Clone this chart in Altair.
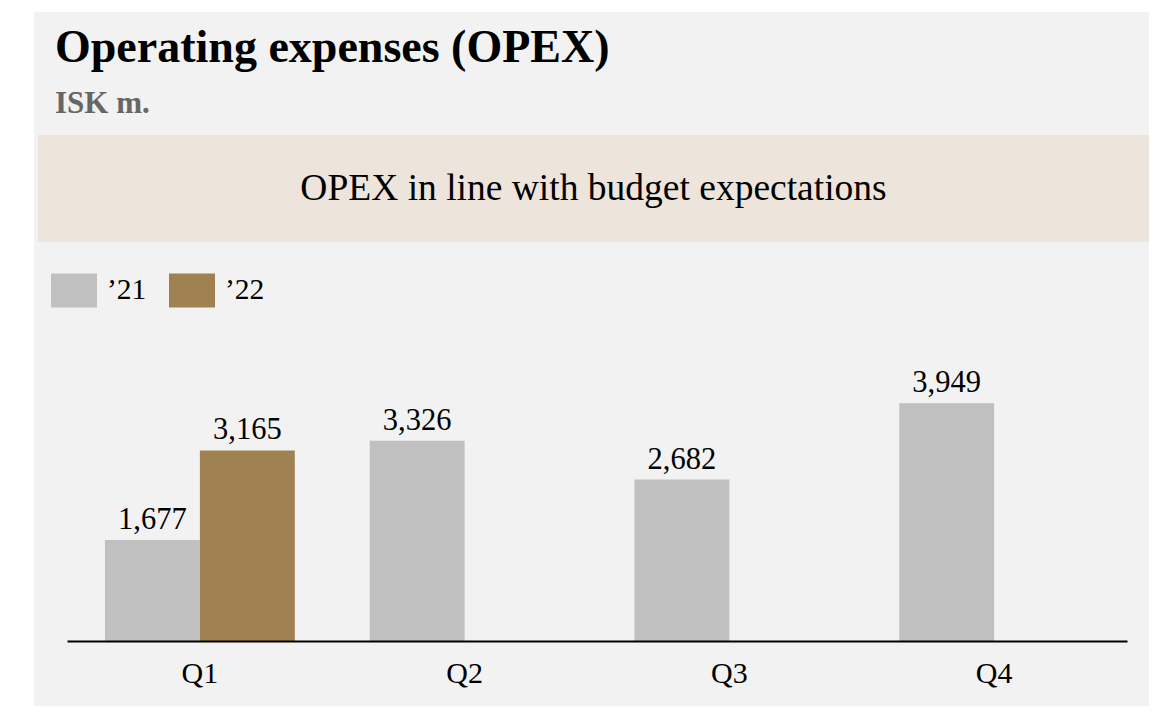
import altair as alt
import pandas as pd

# ---- data ----
quarters = ["Q1", "Q2", "Q3", "Q4"]
years = ["\u201921", "\u201922"]
values_21 = [1677, 3326, 2682, 3949]
values_22 = [3165, None, None, None]

title_text = "Operating expenses (OPEX)"
subtitle_text = "ISK m."
banner_text = "OPEX in line with budget expectations"

rows = []
for q, v in zip(quarters, values_21):
    if v is not None:
        rows.append({"quarter": q, "year": years[0], "value": v})
for q, v in zip(quarters, values_22):
    if v is not None:
        rows.append({"quarter": q, "year": years[1], "value": v})
df = pd.DataFrame(rows)

FONT = "Liberation Serif"
GRAY = "#c0c0c0"
BROWN = "#a08252"
PANEL = "#f2f2f2"
BEIGE = "#ede5dc"

one = pd.DataFrame({"k": [0]})

panel = alt.Chart(one).mark_rect(color=PANEL).encode(
    x=alt.value(-33), x2=alt.value(1082), y=alt.value(-328), y2=alt.value(400)
)
banner = alt.Chart(one).mark_rect(color=BEIGE).encode(
    x=alt.value(-29), x2=alt.value(1082), y=alt.value(-205), y2=alt.value(-98)
)
banner_txt = alt.Chart(pd.DataFrame({"t": [banner_text]})).mark_text(
    font=FONT, fontSize=37.5, color="black", align="center", baseline="middle"
).encode(x=alt.value(526.5), y=alt.value(-151), text="t:N")

title = alt.Chart(pd.DataFrame({"t": [title_text]})).mark_text(
    font=FONT, fontSize=46, fontWeight="bold", color="black",
    align="left", baseline="alphabetic"
).encode(x=alt.value(-12), y=alt.value(-278), text="t:N")

subtitle = alt.Chart(pd.DataFrame({"t": [subtitle_text]})).mark_text(
    font=FONT, fontSize=31, fontWeight="bold", color="#666666",
    align="left", baseline="alphabetic"
).encode(x=alt.value(-12), y=alt.value(-227), text="t:N")

x_enc = alt.X(
    "quarter:N",
    scale=alt.Scale(domain=quarters, paddingInner=0.283, paddingOuter=0.1434),
    axis=alt.Axis(
        title=None, labelAngle=0, ticks=False, grid=False,
        domainColor="black", domainWidth=2, zindex=1,
        labelFont=FONT, labelFontSize=30, labelColor="black",
        labelBaseline="alphabetic", labelPadding=41,
    ),
)
xo_enc = alt.XOffset(
    "year:N", scale=alt.Scale(domain=years, paddingInner=0, paddingOuter=0)
)
y_enc = alt.Y("value:Q", scale=alt.Scale(domain=[0, 5000], nice=False), axis=None)

legend_path = "M-1,-0.74H1V0.74H-1Z"

bars = alt.Chart(df).mark_bar(strokeWidth=0).encode(
    x=x_enc,
    xOffset=xo_enc,
    y=y_enc,
    color=alt.Color(
        "year:N",
        scale=alt.Scale(domain=years, range=[GRAY, BROWN]),
        legend=alt.Legend(
            orient="none", legendX=-16, legendY=-73, direction="horizontal",
            title=None, symbolType=legend_path, symbolSize=2116,
            symbolStrokeWidth=0, symbolOpacity=1,
            labelFont=FONT, labelFontSize=29.5, labelColor="black",
            labelOffset=10, columnPadding=22, padding=0,
        ),
    ),
)

labels = alt.Chart(df).mark_text(
    font=FONT, fontSize=30.5, color="black", baseline="alphabetic", dy=-11
).encode(
    x=x_enc,
    xOffset=xo_enc,
    y=y_enc,
    text=alt.Text("value:Q", format=",.0f"),
)

chart = alt.layer(panel, banner, banner_txt, title, subtitle, bars, labels).properties(
    width=1060,
    height=301,
    padding={"left": 59, "top": 332, "right": 27, "bottom": 65},
    autosize=alt.AutoSizeParams(type="none"),
    background="white",
).configure_view(stroke=None)

chart.save("out.html", embed_options={"renderer": "svg", "actions": False})
